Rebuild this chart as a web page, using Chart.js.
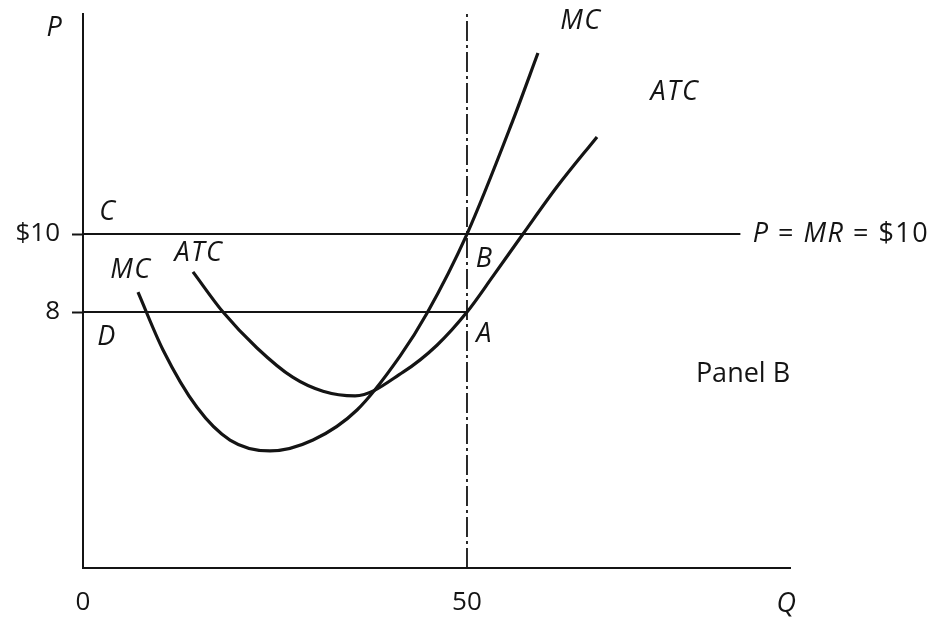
<!DOCTYPE html>
<html>
<head>
<meta charset="utf-8">
<title>Panel B – Short-run profit of a competitive firm</title>
<script src="https://cdn.jsdelivr.net/npm/chart.js@4.4.1/dist/chart.umd.min.js"></script>
<style>
  html, body { margin: 0; padding: 0; background: #ffffff; }
  canvas { display: block; }
</style>
</head>
<body>
<canvas id="chart" width="932" height="619"></canvas>
<script>
// ---- Data -------------------------------------------------------------
// Marginal cost curve: quantity and price
const mcQ = [7.16, 10.42, 14.84, 19.14, 24.35, 29.95, 35.68, 41.28, 44.79, 50.0, 55.99, 59.24];
const mcP = [8.51, 7.03, 5.56, 4.72, 4.44, 4.72, 5.49, 6.87, 7.97, 10.0, 12.92, 14.64];

// Average total cost curve: quantity and price
const atcQ = [14.32, 18.23, 22.66, 27.3, 31.25, 35.42, 41.67, 46.09, 50.0, 53.39, 57.29, 61.72, 66.93];
const atcP = [9.03, 8.00, 7.08, 6.33, 5.97, 5.85, 6.46, 7.15, 8.0, 8.92, 10.0, 11.21, 12.49];

// Price line P = MR = $10
const priceQ = [0, 85.6];
const priceP = [10, 10];

// Average cost at the chosen output (P = 8)
const costQ = [0, 50];
const costP = [8, 8];

// Profit-maximising output Q = 50
const outputQ = [50, 50];
const outputP = [1.44, 15.64];

// Axis ticks
const xTickValues = [0, 50];
const xTickLabels = ['0', '50'];
const yTickValues = [8, 10];
const yTickLabels = ['8', '$10'];

// ---- Presentation -----------------------------------------------------
const INK = '#141414';
const FONT = '"Open Sans", Lato, "DejaVu Sans", sans-serif';
const TICK_SIZE = 26;
const LABEL_SIZE = 27;

const toPoints = (xs, ys) => xs.map((x, i) => ({ x: x, y: ys[i] }));

// Text placed on the diagram, in data units (Q, P)
const labels = [
  { text: 'P',   q: -3.65, p: 15.28, italic: true },
  { text: 'Q',   q: 91.67, p: 0.51,  italic: true },
  { text: 'C',   q: 3.26,  p: 10.56, italic: true },
  { text: 'D',   q: 3.13,  p: 7.36,  italic: true },
  { text: 'MC',  q: 6.25,  p: 9.08,  italic: true },
  { text: 'ATC', q: 15.1,  p: 9.51,  italic: true },
  { text: 'B',   q: 52.3,  p: 9.36,  italic: true },
  { text: 'A',   q: 52.3,  p: 7.44,  italic: true },
  { text: 'MC',  q: 64.84, p: 15.44, italic: true },
  { text: 'ATC', q: 77.08, p: 13.62, italic: true },
  { text: 'Panel B', q: 85.94, p: 6.41, italic: false }
];

// "P = MR = $10" written in mixed italic / upright runs
const priceCaption = {
  q: 87.2, p: 10,
  runs: [
    { text: 'P', italic: true },
    { text: ' = ', italic: false },
    { text: 'MR', italic: true },
    { text: ' = $10', italic: false }
  ]
};

const textPlugin = {
  id: 'diagramText',
  afterDatasetsDraw(chart) {
    const ctx = chart.ctx;
    const xs = chart.scales.x;
    const ys = chart.scales.y;
    const font = (it) => (it ? 'italic ' : '') + LABEL_SIZE + 'px ' + FONT;
    ctx.save();
    ctx.fillStyle = INK;
    ctx.textBaseline = 'middle';
    ctx.textAlign = 'center';
    labels.forEach(l => {
      ctx.font = font(l.italic);
      ctx.letterSpacing = l.italic ? '1.5px' : '0px';
      ctx.fillText(l.text, xs.getPixelForValue(l.q), ys.getPixelForValue(l.p));
    });
    ctx.textAlign = 'left';
    ctx.letterSpacing = '1.5px';
    let x = xs.getPixelForValue(priceCaption.q);
    const y = ys.getPixelForValue(priceCaption.p);
    priceCaption.runs.forEach(r => {
      ctx.font = font(r.italic);
      ctx.fillText(r.text, x, y);
      x += ctx.measureText(r.text).width;
    });
    ctx.restore();
  }
};

const curve = {
  borderColor: INK,
  borderWidth: 3.2,
  pointRadius: 0,
  fill: false,
  cubicInterpolationMode: 'monotone'
};
const straight = {
  borderColor: INK,
  borderWidth: 2,
  pointRadius: 0,
  fill: false,
  tension: 0
};

new Chart(document.getElementById('chart'), {
  type: 'line',
  data: {
    datasets: [
      Object.assign({ label: 'MC', data: toPoints(mcQ, mcP) }, curve),
      Object.assign({ label: 'ATC', data: toPoints(atcQ, atcP) }, curve),
      Object.assign({ label: 'P = MR', data: toPoints(priceQ, priceP) }, straight),
      Object.assign({ label: 'ATC at Q = 50', data: toPoints(costQ, costP) }, straight),
      Object.assign({ label: 'Q = 50', data: toPoints(outputQ, outputP), borderDash: [20, 4, 3, 4] }, straight, { borderWidth: 1.8 })
    ]
  },
  options: {
    responsive: false,
    animation: false,
    events: [],
    layout: { padding: { left: 0, top: 14, right: 142, bottom: 0 } },
    plugins: { legend: { display: false }, tooltip: { enabled: false } },
    scales: {
      x: {
        type: 'linear',
        min: 0,
        max: 92.06,
        afterBuildTicks: s => { s.ticks = xTickValues.map(v => ({ value: v })); },
        afterFit: s => { s.height = 51; s.paddingLeft = 0; s.paddingRight = 0; },
        ticks: {
          callback: (v, i) => xTickLabels[i],
          color: INK,
          font: { family: FONT, size: TICK_SIZE },
          padding: 19,
          maxRotation: 0,
          autoSkip: false
        },
        grid: { display: true, drawOnChartArea: false, drawTicks: false },
        border: { display: true, color: INK, width: 2 }
      },
      y: {
        type: 'linear',
        min: 1.44,
        max: 15.64,
        afterBuildTicks: s => { s.ticks = yTickValues.map(v => ({ value: v })); },
        afterFit: s => { s.width = 83; s.paddingTop = 0; s.paddingBottom = 0; },
        ticks: {
          callback: (v, i) => yTickLabels[i],
          color: INK,
          font: { family: FONT, size: TICK_SIZE },
          padding: 12,
          autoSkip: false
        },
        grid: { display: true, drawOnChartArea: false, drawTicks: true, tickLength: 11, tickWidth: 2, tickColor: INK },
        border: { display: true, color: INK, width: 2 }
      }
    }
  },
  plugins: [textPlugin]
});
</script>
</body>
</html>
